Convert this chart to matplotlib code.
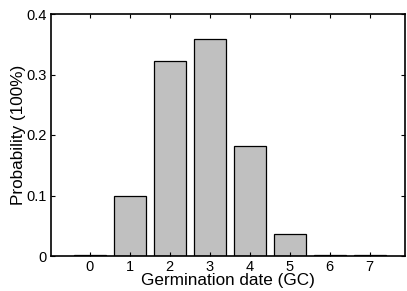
import matplotlib
matplotlib.use("Agg")
import matplotlib.pyplot as plt

days = [0, 1, 2, 3, 4, 5, 6, 7]
probability = [0.002, 0.099, 0.323, 0.359, 0.181, 0.037, 0.002, 0.001]
yticks = [0, 0.1, 0.2, 0.3, 0.4]
ytick_labels = ["0", "0.1", "0.2", "0.3", "0.4"]

plt.rcParams['font.family'] = ['Liberation Sans', 'DejaVu Sans']

fig = plt.figure(figsize=(4.07, 2.91), dpi=100)
ax = fig.add_axes([51/407, 35/291, 354/407, 242/291])
ax.bar(days, probability, width=0.8, color="#c0c0c0", edgecolor="black", linewidth=0.9)
ax.set_xlim(-0.97, 7.88)
ax.set_ylim(0, 0.4)
ax.set_xticks(days)
ax.set_yticks(yticks)
ax.set_yticklabels(ytick_labels)
ax.tick_params(direction="in", top=True, right=True, length=3, width=0.8, labelsize=10.5, pad=3)
for s in ax.spines.values():
    s.set_linewidth(1.2)
ax.set_xlabel("Germination date (GC)", fontsize=12.3, labelpad=-1)
ax.set_ylabel("Probability (100%)", fontsize=12.3, labelpad=0)
fig.savefig("out.png", dpi=100)
